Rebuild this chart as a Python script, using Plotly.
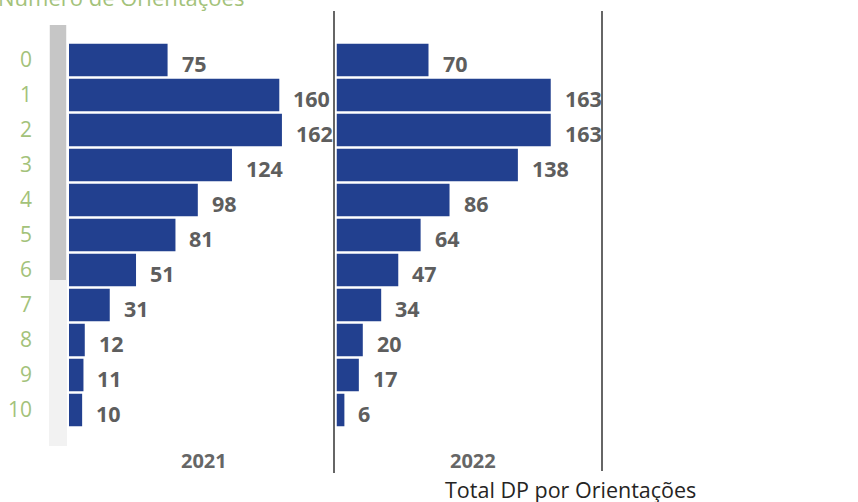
import plotly.graph_objects as go

# Number of advising sessions (0..10) and total per year
categories = ["0", "1", "2", "3", "4", "5", "6", "7", "8", "9", "10"]
years = ["2021", "2022"]
totals_2021 = [75, 160, 162, 124, 98, 81, 51, 31, 12, 11, 10]
totals_2022 = [70, 163, 163, 138, 86, 64, 47, 34, 20, 17, 6]
series = [totals_2021, totals_2022]

W, H = 858, 502
BAR = "#22408f"
GREEN = "#a3c27a"
LABEL = "#5e5e5e"
FONT = "Open Sans"


def px(x):
    return x / W


def py(y):
    return (H - y) / H


x_domains = [[px(69), px(334.5)], [px(336.5), px(602)]]
y_domain = [py(427.5), py(42.5)]
x_max = 202

fig = go.Figure()
annotations = []
for i, (year, vals) in enumerate(zip(years, series)):
    xa = "x" if i == 0 else f"x{i + 1}"
    fig.add_trace(go.Bar(
        x=vals, y=categories, orientation="h",
        marker=dict(color=BAR, line=dict(width=0)),
        xaxis=xa, yaxis="y", hoverinfo="x+y", showlegend=False,
    ))
    for c, v in zip(categories, vals):
        annotations.append(dict(
            x=v, y=c, xref=xa, yref="y", text=f"<b>{v}</b>",
            xanchor="left", yanchor="middle", xshift=12, yshift=-3,
            showarrow=False, font=dict(family=FONT, size=21.5, color=LABEL),
        ))

# year labels under each panel
for cx, year in zip([204, 473], years):
    annotations.append(dict(
        x=px(cx), y=py(460), xref="paper", yref="paper", text=f"<b>{year}</b>",
        xanchor="center", yanchor="middle", showarrow=False,
        font=dict(family=FONT, size=20, color="#666666"),
    ))

# axis titles
annotations.append(dict(
    x=px(570), y=py(489), xref="paper", yref="paper", text="Total DP por Orientações",
    xanchor="center", yanchor="middle", showarrow=False,
    font=dict(family=FONT, size=21.5, color="#252423"),
))
annotations.append(dict(
    x=0, y=py(-3), xref="paper", yref="paper", text="Número de Orientações",
    xanchor="left", yanchor="middle", xshift=-4, showarrow=False,
    font=dict(family=FONT, size=22, color=GREEN),
))

shapes = [
    # scroll track and thumb
    dict(type="rect", xref="paper", yref="paper", x0=px(49), x1=px(67),
         y0=py(446), y1=py(25), fillcolor="#f2f2f2", line=dict(width=0), layer="below"),
    dict(type="rect", xref="paper", yref="paper", x0=px(50), x1=px(66),
         y0=py(280), y1=py(25), fillcolor="#c6c6c6", line=dict(width=0), layer="below"),
    # panel separators
    dict(type="line", xref="paper", yref="paper", x0=px(334), x1=px(334),
         y0=py(473), y1=py(11), line=dict(color="#333333", width=1.5)),
    dict(type="line", xref="paper", yref="paper", x0=px(602), x1=px(602),
         y0=py(471), y1=py(11), line=dict(color="#333333", width=1.5)),
]

axis_common = dict(range=[0, x_max], showgrid=False, zeroline=False,
                   showticklabels=False, showline=False, fixedrange=True)

fig.update_layout(
    width=W, height=H,
    margin=dict(l=0, r=0, t=0, b=0),
    paper_bgcolor="white", plot_bgcolor="rgba(0,0,0,0)",
    bargap=0.07,
    xaxis=dict(domain=x_domains[0], anchor="y", **axis_common),
    xaxis2=dict(domain=x_domains[1], anchor="y", **axis_common),
    yaxis=dict(domain=y_domain, type="category", categoryorder="array",
               categoryarray=categories, range=[10.5, -0.5], anchor="x",
               showgrid=False, zeroline=False, showline=False, ticks="",
               ticklabelstandoff=36,
               tickfont=dict(family=FONT, size=21, color=GREEN)),
    annotations=annotations,
    shapes=shapes,
    font=dict(family=FONT),
)

fig.write_html("out.html")
